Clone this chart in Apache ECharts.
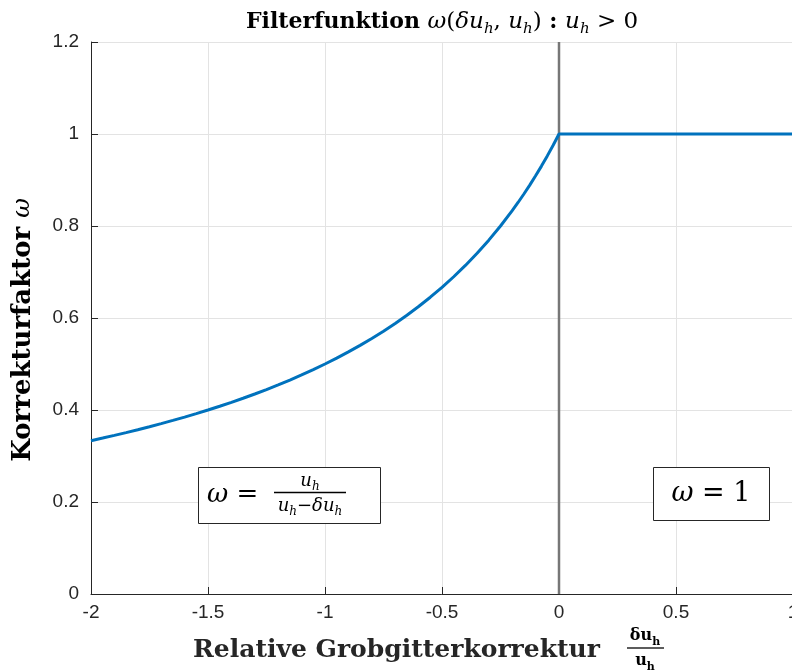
<!DOCTYPE html>
<html>
<head>
<meta charset="utf-8">
<script src="https://cdn.jsdelivr.net/npm/echarts@6/dist/echarts.min.js"></script>
<style>html,body{margin:0;padding:0;background:#fff}#c{width:792px;height:672px}</style>
</head>
<body>
<div id="c"></div>
<script>
// Data
const curveX = [-2, -1.95, -1.9, -1.85, -1.8, -1.75, -1.7, -1.65, -1.6, -1.55, -1.5, -1.45, -1.4, -1.35, -1.3, -1.25, -1.2, -1.15, -1.1, -1.05,
  -1.0, -0.95, -0.9, -0.85, -0.8, -0.75, -0.7, -0.65, -0.6, -0.55, -0.5, -0.45, -0.4, -0.35, -0.3, -0.25, -0.2, -0.175, -0.15, -0.125, -0.1, -0.075, -0.05, -0.025, 0, 1];
const curveY = [0.3333, 0.3390, 0.3448, 0.3509, 0.3571, 0.3636, 0.3704, 0.3774, 0.3846, 0.3922, 0.4000, 0.4082, 0.4167, 0.4255, 0.4348, 0.4444, 0.4545, 0.4651, 0.4762, 0.4878,
  0.5000, 0.5128, 0.5263, 0.5405, 0.5556, 0.5714, 0.5882, 0.6061, 0.6250, 0.6452, 0.6667, 0.6897, 0.7143, 0.7407, 0.7692, 0.8000, 0.8333, 0.8511, 0.8696, 0.8889, 0.9091, 0.9302, 0.9524, 0.9756, 1.0000, 1.0000];
const zeroLineX = [0, 0];
const zeroLineY = [0, 1.2];
const xTickLabels = ['-2', '-1.5', '-1', '-0.5', '0', '0.5', '1'];
const yTickLabels = ['0', '0.2', '0.4', '0.6', '0.8', '1', '1.2'];

const xMin = -2, xMax = 1, xStep = 0.5;
const yMin = 0, yMax = 1.2, yStep = 0.2;

const chart = echarts.init(document.getElementById('c'), null, {renderer: 'canvas'});

const serif = 'DejaVu Serif';
const mainRich = {
  b: {fontFamily: serif, fontWeight: 'bold', fontSize: 22, lineHeight: 26, color: '#000'},
  m: {fontFamily: serif, fontStyle: 'italic', fontSize: 23, lineHeight: 26, color: '#000'},
  r: {fontFamily: serif, fontSize: 23, lineHeight: 26, color: '#000'},
  s: {fontFamily: serif, fontStyle: 'italic', fontSize: 15, lineHeight: 15, padding: [15, 0, 0, 0], color: '#000'}
};
const fracRich = {
  m: {fontFamily: serif, fontStyle: 'italic', fontSize: 18, lineHeight: 20, color: '#000'},
  r: {fontFamily: serif, fontSize: 18, lineHeight: 20, color: '#000'},
  s: {fontFamily: serif, fontStyle: 'italic', fontSize: 12, lineHeight: 12, padding: [12, 0, 0, 0], color: '#000'}
};
const xFracRich = {
  n: {fontFamily: serif, fontWeight: 'bold', fontSize: 16, lineHeight: 18, color: '#262626'},
  s: {fontFamily: serif, fontWeight: 'bold', fontSize: 11, lineHeight: 11, padding: [12, 0, 0, 0], color: '#262626'}
};

const option = {
  animation: false,
  grid: {left: 91, top: 42, width: 702, height: 552, containLabel: false, outerBoundsMode: 'none'},
  xAxis: {
    type: 'value', min: xMin, max: xMax, interval: xStep,
    axisLine: {show: true, onZero: false, lineStyle: {color: '#262626', width: 1}},
    axisTick: {show: true, inside: true, length: 7, lineStyle: {color: '#262626'}},
    splitLine: {show: true, lineStyle: {color: '#e3e3e3', width: 1}},
    axisLabel: {
      show: true, margin: 9, showMaxLabel: true, showMinLabel: true,
      fontFamily: 'Liberation Sans', fontSize: 19, color: '#262626',
      formatter: v => xTickLabels[Math.round((v - xMin) / xStep)]
    }
  },
  yAxis: {
    type: 'value', min: yMin, max: yMax, interval: yStep,
    axisLine: {show: true, onZero: false, lineStyle: {color: '#262626', width: 1}},
    axisTick: {show: true, inside: true, length: 7, lineStyle: {color: '#262626'}},
    splitLine: {show: true, lineStyle: {color: '#e3e3e3', width: 1}},
    axisLabel: {
      show: true, margin: 12, showMaxLabel: true, showMinLabel: true,
      fontFamily: 'Liberation Sans', fontSize: 19, color: '#262626',
      formatter: v => yTickLabels[Math.round((v - yMin) / yStep)]
    }
  },
  series: [
    {
      type: 'line', data: zeroLineX.map((x, i) => [x, zeroLineY[i]]),
      showSymbol: false, symbol: 'none', lineStyle: {color: '#777777', width: 2.5}, z: 2, silent: true
    },
    {
      type: 'line', data: curveX.map((x, i) => [x, curveY[i]]),
      showSymbol: false, symbol: 'none', smooth: false, clip: false,
      lineStyle: {color: '#0072BD', width: 3}, z: 3, silent: true
    }
  ],
  graphic: [
    // title
    {
      type: 'text', x: 442, y: 22, z: 10,
      style: {
        text: '{b|Filterfunktion }{m|ω}{r|(}{m|δu}{s|h}{r|, }{m|u}{s|h}{r|)}{b| : }{m|u}{s|h}{r| > 0}',
        rich: mainRich, align: 'center', verticalAlign: 'middle'
      }
    },
    // x label
    {
      type: 'text', x: 193, y: 650, z: 10,
      style: {
        text: 'Relative Grobgitterkorrektur', fontFamily: serif, fontWeight: 'bold', fontSize: 25,
        fill: '#262626', align: 'left', verticalAlign: 'middle'
      }
    },
    {
      type: 'text', x: 645, y: 636, z: 10,
      style: {text: '{n|δu}{s|h}', rich: xFracRich, align: 'center', verticalAlign: 'middle'}
    },
    {type: 'line', z: 10, shape: {x1: 627, y1: 648, x2: 664, y2: 648}, style: {stroke: '#262626', lineWidth: 1.3}},
    {
      type: 'text', x: 645, y: 661, z: 10,
      style: {text: '{n|u}{s|h}', rich: xFracRich, align: 'center', verticalAlign: 'middle'}
    },
    // y label
    {
      type: 'text', x: 23, y: 330, rotation: Math.PI / 2, z: 10,
      style: {
        text: '{b|Korrekturfaktor }{m|ω}',
        rich: {
          b: {fontFamily: serif, fontWeight: 'bold', fontSize: 26, color: '#262626'},
          m: {fontFamily: serif, fontStyle: 'italic', fontSize: 24, color: '#262626'}
        },
        align: 'center', verticalAlign: 'middle'
      }
    },
    // left box
    {type: 'rect', z: 10, shape: {x: 198.5, y: 467.5, width: 182, height: 56}, style: {fill: '#fff', stroke: '#262626', lineWidth: 1}},
    {
      type: 'text', x: 207, y: 495, z: 11,
      style: {
        text: '{m|ω}{r| = }',
        rich: {
          m: {fontFamily: serif, fontStyle: 'italic', fontSize: 26, color: '#000'},
          r: {fontFamily: serif, fontSize: 26, color: '#000'}
        },
        align: 'left', verticalAlign: 'middle'
      }
    },
    {
      type: 'text', x: 310, y: 481, z: 11,
      style: {text: '{m|u}{s|h}', rich: fracRich, align: 'center', verticalAlign: 'middle'}
    },
    {type: 'line', z: 11, shape: {x1: 274, y1: 492.5, x2: 346, y2: 492.5}, style: {stroke: '#000', lineWidth: 1.4}},
    {
      type: 'text', x: 310, y: 506, z: 11,
      style: {text: '{m|u}{s|h}{r|−}{m|δu}{s|h}', rich: fracRich, align: 'center', verticalAlign: 'middle'}
    },
    // right box
    {type: 'rect', z: 10, shape: {x: 653.5, y: 467.5, width: 116, height: 53}, style: {fill: '#fff', stroke: '#262626', lineWidth: 1}},
    {
      type: 'text', x: 711, y: 494, z: 11,
      style: {
        text: '{m|ω}{r| = 1}',
        rich: {
          m: {fontFamily: serif, fontStyle: 'italic', fontSize: 27, color: '#000'},
          r: {fontFamily: serif, fontSize: 27, color: '#000'}
        },
        align: 'center', verticalAlign: 'middle'
      }
    }
  ]
};
chart.setOption(option);
</script>
</body>
</html>
